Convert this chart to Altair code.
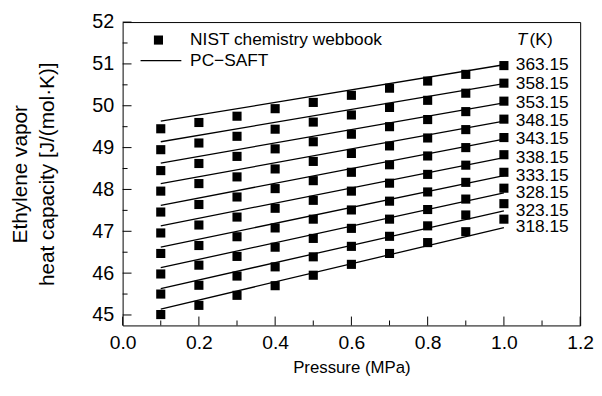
import altair as alt
import pandas as pd

# ---- data ----
pressures = [0.1, 0.2, 0.3, 0.4, 0.5, 0.6, 0.7, 0.8, 0.9, 1.0]
temps = ["318.15", "323.15", "328.15", "333.15", "338.15",
         "343.15", "348.15", "353.15", "358.15", "363.15"]

# NIST chemistry webbook Cp values, one list per temperature (P = 0.1 ... 1.0 MPa)
nist_318 = [45.01, 45.23, 45.47, 45.70, 45.95, 46.21, 46.47, 46.73, 46.99, 47.29]
nist_323 = [45.50, 45.71, 45.93, 46.15, 46.39, 46.64, 46.88, 47.13, 47.39, 47.66]
nist_328 = [45.98, 46.19, 46.40, 46.62, 46.83, 47.07, 47.29, 47.52, 47.77, 48.03]
nist_333 = [46.47, 46.66, 46.87, 47.08, 47.29, 47.51, 47.72, 47.94, 48.17, 48.41]
nist_338 = [46.96, 47.15, 47.34, 47.55, 47.74, 47.96, 48.15, 48.36, 48.58, 48.83]
nist_343 = [47.46, 47.64, 47.82, 48.02, 48.21, 48.41, 48.59, 48.80, 49.00, 49.24]
nist_348 = [47.96, 48.14, 48.30, 48.49, 48.67, 48.86, 49.04, 49.23, 49.43, 49.68]
nist_353 = [48.45, 48.62, 48.79, 48.97, 49.14, 49.32, 49.50, 49.67, 49.86, 50.11]
nist_358 = [48.95, 49.11, 49.27, 49.44, 49.61, 49.78, 49.96, 50.13, 50.30, 50.54]
nist_363 = [49.45, 49.60, 49.75, 49.93, 50.08, 50.25, 50.42, 50.59, 50.75, 50.96]

# PC-SAFT lines: pressures of the end points and values there
saft_p = [0.1, 1.0]
saft_start = [45.14, 45.63, 46.13, 46.62, 47.13, 47.62, 48.14, 48.63, 49.14, 49.63]
saft_end = [47.09, 47.49, 47.92, 48.33, 48.76, 49.20, 49.63, 50.07, 50.53, 50.98]

# axis ticks
x_major = [0.0, 0.2, 0.4, 0.6, 0.8, 1.0, 1.2]
x_minor = [0.1, 0.3, 0.5, 0.7, 0.9, 1.1]
y_major = [45, 46, 47, 48, 49, 50, 51, 52]
y_minor = [45.5, 46.5, 47.5, 48.5, 49.5, 50.5, 51.5]

# legend / header annotation anchors (data coordinates)
legend_labels = ["NIST chemistry webbook", "PC\u2212SAFT"]
legend_y = [51.57, 51.08]
legend_sym_x = [0.094]
legend_line_x = [0.047, 0.154]
legend_text_x = [0.177]
header_y = [51.57]

W, H = 463, 307
FONT = "Liberation Sans"
FS = 17.5

nist_all = [nist_318, nist_323, nist_328, nist_333, nist_338,
            nist_343, nist_348, nist_353, nist_358, nist_363]
nist_df = pd.DataFrame([
    {"P": p, "Cp": v, "T": t}
    for t, vals in zip(temps, nist_all) for p, v in zip(pressures, vals)
])
saft_df = pd.DataFrame([
    {"P": p, "Cp": v, "T": t}
    for t, a, b in zip(temps, saft_start, saft_end) for p, v in zip(saft_p, [a, b])
])
label_df = pd.DataFrame({"P": [1.0] * len(temps), "Cp": saft_end, "T": temps})

xs = alt.Scale(domain=[0, 1.2], nice=False, zero=False)
ys = alt.Scale(domain=[44.75, 52], nice=False, zero=False)

xaxis = alt.Axis(values=x_major, format=".1f", ticks=False, domain=False, grid=False,
                 labelFlush=False, labelPadding=8, labelFontSize=19.5,
                 title="Pressure (MPa)", titleFontSize=17, titlePadding=8)
yaxis = alt.Axis(values=y_major, format="d", ticks=False, domain=False, grid=False,
                 labelFlush=False, labelPadding=9, labelFontSize=20,
                 title=["Ethylene vapor", "heat capacity [J/(mol\u00b7K)]"],
                 titleFontSize=21, titleLineHeight=27, titlePadding=35)

points = alt.Chart(nist_df).mark_square(size=85, color="black", opacity=1).encode(
    x=alt.X("P:Q", scale=xs, axis=xaxis),
    y=alt.Y("Cp:Q", scale=ys, axis=yaxis),
)
lines = alt.Chart(saft_df).mark_line(color="black", strokeWidth=1.3).encode(
    x=alt.X("P:Q", scale=xs), y=alt.Y("Cp:Q", scale=ys), detail="T:N")

labels = alt.Chart(label_df).mark_text(align="left", baseline="middle", dx=12,
                                       font=FONT, fontSize=FS, color="black").encode(
    x=alt.X("P:Q", scale=xs), y=alt.Y("Cp:Q", scale=ys), text="T:N")

hdr = pd.DataFrame({"P": [1.0], "Cp": header_y})
hdr_T = alt.Chart(hdr).mark_text(align="left", baseline="middle", dx=13, font=FONT,
                                 fontSize=FS, fontStyle="italic", color="black",
                                 text="T").encode(x=alt.X("P:Q", scale=xs), y=alt.Y("Cp:Q", scale=ys))
hdr_K = alt.Chart(hdr).mark_text(align="left", baseline="middle", dx=26, font=FONT,
                                 fontSize=FS, color="black",
                                 text="(K)").encode(x=alt.X("P:Q", scale=xs), y=alt.Y("Cp:Q", scale=ys))

leg_sym = alt.Chart(pd.DataFrame({"P": legend_sym_x, "Cp": legend_y[:1]})).mark_square(
    size=85, color="black", opacity=1).encode(x=alt.X("P:Q", scale=xs), y=alt.Y("Cp:Q", scale=ys))
leg_line = alt.Chart(pd.DataFrame({"P": [legend_line_x[0]], "P2": [legend_line_x[1]],
                                   "Cp": legend_y[1:]})).mark_rule(color="black", strokeWidth=1.3).encode(
    x=alt.X("P:Q", scale=xs), x2="P2:Q", y=alt.Y("Cp:Q", scale=ys))
leg_text = alt.Chart(pd.DataFrame({"P": legend_text_x * 2, "Cp": legend_y, "lab": legend_labels})).mark_text(
    align="left", baseline="middle", font=FONT, fontSize=FS, color="black").encode(
    x=alt.X("P:Q", scale=xs), y=alt.Y("Cp:Q", scale=ys), text="lab:N")

def xticks(vals, length):
    return alt.Chart(pd.DataFrame({"P": vals})).mark_rule(color="black", strokeWidth=1).encode(
        x=alt.X("P:Q", scale=xs), y=alt.value(H), y2=alt.value(H - length))

def yticks(vals, length):
    return alt.Chart(pd.DataFrame({"Cp": vals})).mark_rule(color="black", strokeWidth=1).encode(
        y=alt.Y("Cp:Q", scale=ys), x=alt.value(0), x2=alt.value(length))

chart = alt.layer(
    points, lines, labels, hdr_T, hdr_K, leg_sym, leg_line, leg_text,
    xticks(x_major, 9), xticks(x_minor, 5), yticks(y_major, 9), yticks(y_minor, 5),
).properties(
    width=W, height=H,
    background="white",
    autosize=alt.AutoSizeParams(type="none"),
    padding={"left": 116, "top": 12, "right": 14, "bottom": 55},
).configure_view(
    stroke="black", strokeWidth=1
).configure_axis(
    labelFont=FONT, labelColor="black",
    titleFont=FONT, titleFontWeight="normal", titleColor="black",
)

chart.save("out.html", embed_options={"renderer": "svg", "actions": False})
